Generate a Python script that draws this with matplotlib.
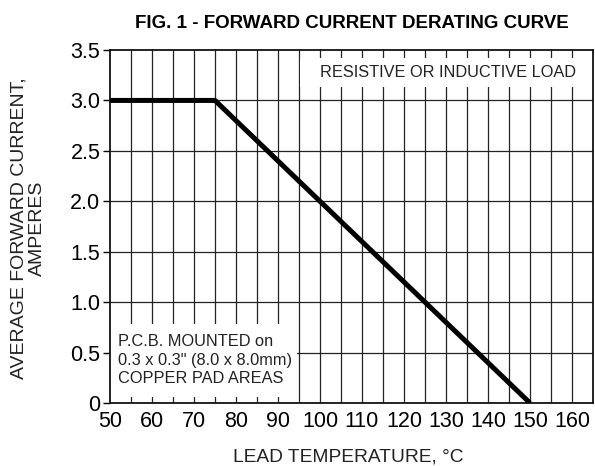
import numpy as np
import matplotlib.pyplot as plt
from matplotlib.patches import Rectangle

plt.rcParams['font.family'] = ['Liberation Sans', 'DejaVu Sans']

# derating curve (lead temp in C, average forward current in A)
temp = [50, 75, 150]
current = [3.0, 3.0, 0.0]

xticks = [50, 60, 70, 80, 90, 100, 110, 120, 130, 140, 150, 160]
yticks = [0, 0.5, 1.0, 1.5, 2.0, 2.5, 3.0, 3.5]
ytick_labels = ['0', '0.5', '1.0', '1.5', '2.0', '2.5', '3.0', '3.5']
xgrid = np.arange(55, 165, 5)
ygrid = [0.5, 1.0, 1.5, 2.0, 2.5, 3.0]

W, H = 595, 466
fig = plt.figure(figsize=(W / 100, H / 100), dpi=100)
ax = fig.add_axes([110 / W, (H - 403) / H, (593 - 110) / W, (403 - 50) / H])

ax.set_xlim(50, 165)
ax.set_ylim(0, 3.5)

# grid lines
for gx in xgrid:
    ax.axvline(gx, color='#222222', lw=0.9, zorder=1)
for gy in ygrid:
    ax.axhline(gy, color='#222222', lw=0.9, zorder=1)

# white label boxes that hide the grid
ax.add_patch(Rectangle((95.3, 3.13), 165 - 95.3, 0.29, facecolor='white',
                       edgecolor='none', zorder=2))
ax.add_patch(Rectangle((50, 0.06), 44.6, 0.72, facecolor='white',
                       edgecolor='none', zorder=2))

ax.text(130.5, 3.275, 'RESISTIVE OR INDUCTIVE LOAD', ha='center', va='center',
        fontsize=11.8, color='#222222', zorder=3)
ax.text(52.0, 0.425, 'P.C.B. MOUNTED on\n0.3 x 0.3" (8.0 x 8.0mm)\nCOPPER PAD AREAS',
        ha='left', va='center', fontsize=11.8, color='#222222',
        linespacing=1.3, zorder=3)

ax.plot(temp, current, color='black', lw=3.6, solid_capstyle='butt', zorder=4)

ax.set_xticks(xticks)
ax.set_yticks(yticks)
ax.set_yticklabels(ytick_labels)
ax.tick_params(axis='x', length=0, pad=6, labelsize=15.5)
ax.tick_params(axis='y', length=5, width=1, direction='out', pad=2, labelsize=15.5)

for s in ax.spines.values():
    s.set_linewidth(1.3)
    s.set_color('#111111')

fig.text(352 / W, 1 - 23 / H, 'FIG. 1 - FORWARD CURRENT DERATING CURVE',
         ha='center', va='center', fontsize=13.5, fontweight='bold')
fig.text(348 / W, 1 - 457 / H, 'LEAD TEMPERATURE, \u00b0C', ha='center',
         va='center', fontsize=13.8, color='#222222')
fig.text(28 / W, 1 - 228 / H, 'AVERAGE FORWARD CURRENT,\nAMPERES', ha='center',
         va='center', rotation=90, fontsize=14, color='#222222',
         linespacing=1.15)

fig.savefig('out.png', dpi=100)
